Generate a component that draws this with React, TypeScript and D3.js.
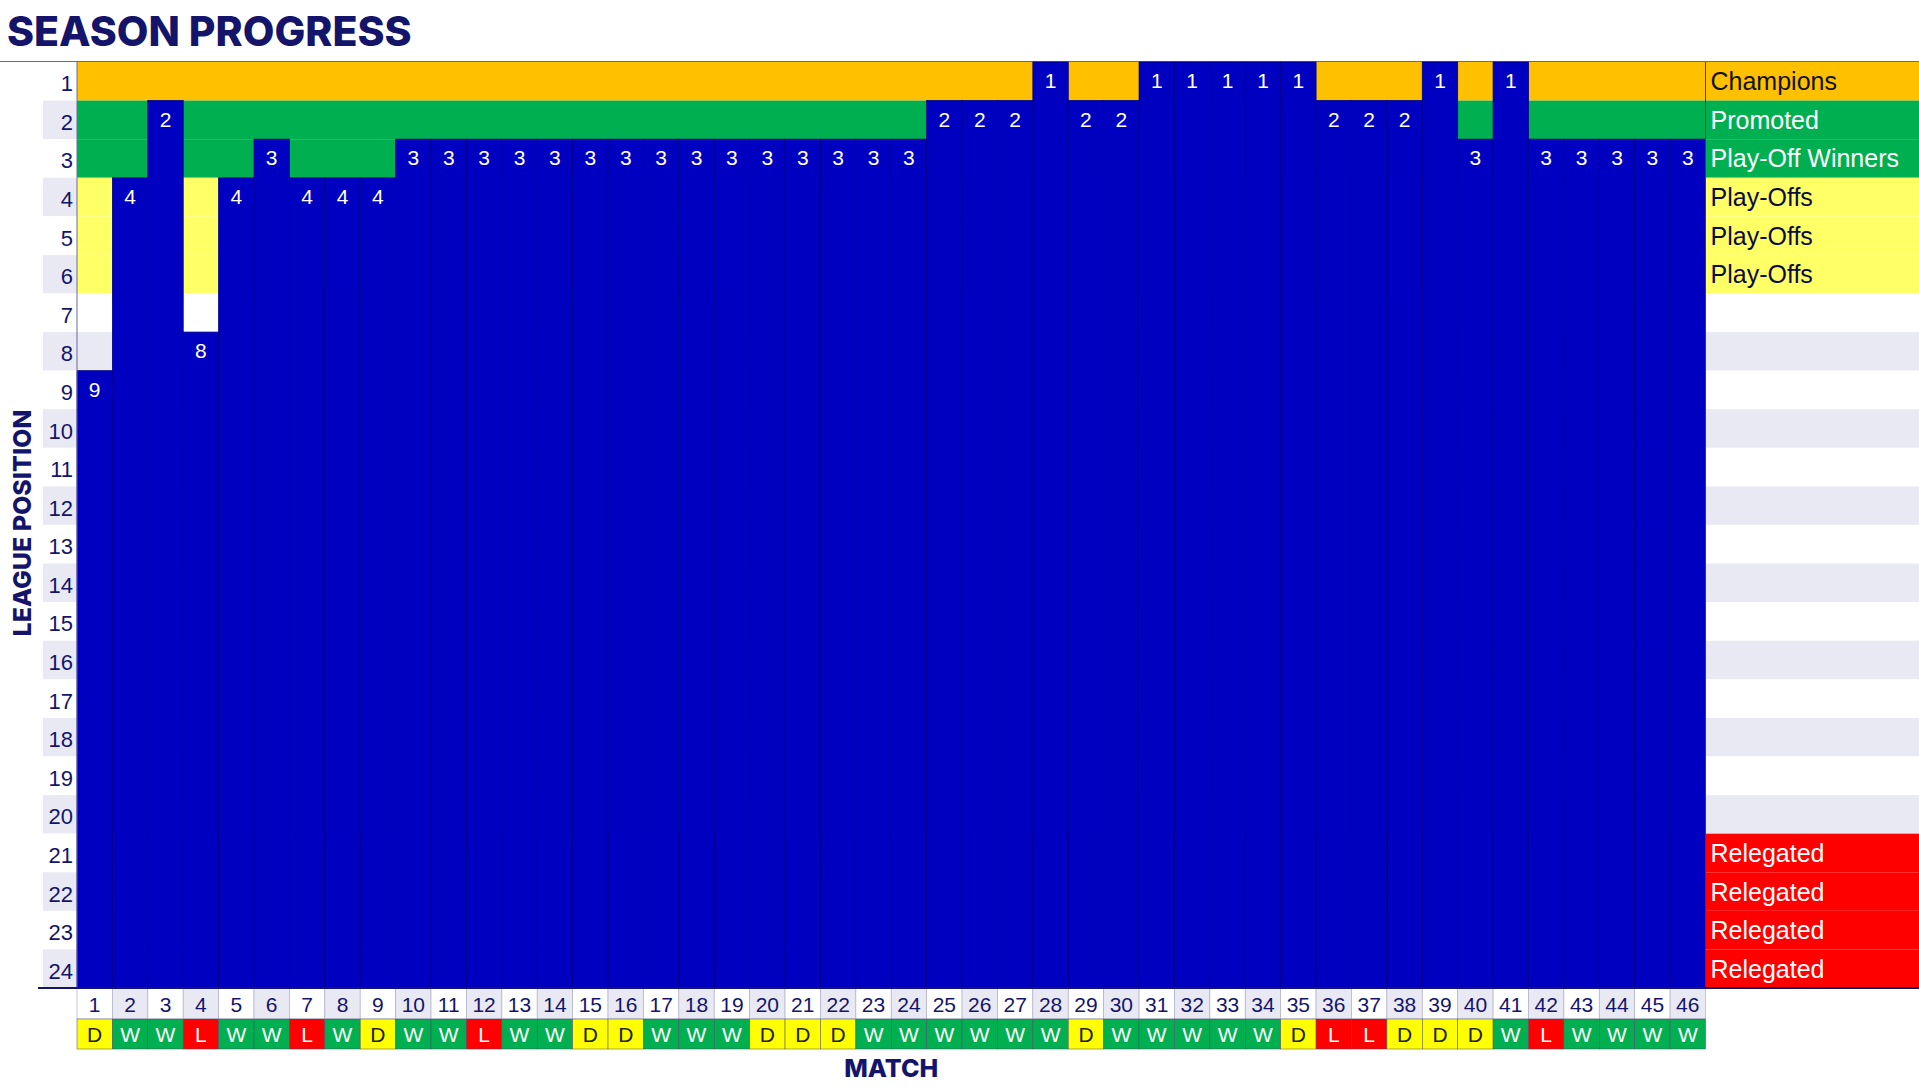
import React from 'react';
import * as d3 from 'd3';

const matches = d3.range(1, 47);
const positions = d3.range(1, 25);

// league position after each match
const leaguePosition = [
  9, 4, 2, 8, 4, 3, 4, 4, 4, 3,
  3, 3, 3, 3, 3, 3, 3, 3, 3, 3,
  3, 3, 3, 3, 2, 2, 2, 1, 2, 2,
  1, 1, 1, 1, 1, 2, 2, 2, 1, 3,
  1, 3, 3, 3, 3, 3,
];

const results = [
  'D', 'W', 'W', 'L', 'W', 'W', 'L', 'W', 'D', 'W',
  'W', 'L', 'W', 'W', 'D', 'D', 'W', 'W', 'W', 'D',
  'D', 'D', 'W', 'W', 'W', 'W', 'W', 'W', 'D', 'W',
  'W', 'W', 'W', 'W', 'D', 'L', 'L', 'D', 'D', 'D',
  'W', 'L', 'W', 'W', 'W', 'W',
];

const zoneLabels: Record<number, string> = {
  1: 'Champions',
  2: 'Promoted',
  3: 'Play-Off Winners',
  4: 'Play-Offs',
  5: 'Play-Offs',
  6: 'Play-Offs',
  21: 'Relegated',
  22: 'Relegated',
  23: 'Relegated',
  24: 'Relegated',
};

const NAVY = '#14146a';
const LAV = '#e9e9f4';
const BAR = '#0000c0';

const zoneFill = (p: number) => {
  if (p === 1) return '#ffc000';
  if (p <= 3) return '#00b050';
  if (p <= 6) return '#ffff66';
  if (p >= 21) return '#ff0000';
  return p % 2 === 0 ? LAV : '#ffffff';
};

const zoneText = (p: number) => {
  if (p === 1) return '#111111';
  if (p <= 3) return '#ffffff';
  if (p <= 6) return '#0c0c3c';
  return '#ffffff';
};

const resultFill: Record<string, string> = { W: '#00b050', D: '#ffff00', L: '#ff0000' };
const resultText: Record<string, string> = { W: '#ffffff', D: '#222222', L: '#ffffff' };

export default function App() {
  const width = 1919;
  const height = 1087;
  const left = 77;
  const right = 1705.5;
  const top = 62;
  const bottom = 988;
  const legendRight = 1919;

  const x = d3.scaleBand<number>().domain(matches).range([left, right]).padding(0);
  const y = d3.scaleBand<number>().domain(positions).range([top, bottom]).padding(0);
  const bw = x.bandwidth();
  const bh = y.bandwidth();
  const rowNum = 31;
  const rowRes = 30;
  const font = "'Liberation Sans', Arial, sans-serif";
  const boldFont = "Inter, 'Liberation Sans', sans-serif";

  return (
    <svg
      width={width}
      height={height}
      style={{ position: 'absolute', left: 0, top: 0, background: '#fff' }}
    >
      <text x={7} y={46} fontFamily={boldFont} fontWeight={800} fontSize={41} fill={NAVY}>
        SEASON PROGRESS
      </text>
      <line x1={0} x2={width} y1={top - 0.5} y2={top - 0.5} stroke="#6b6b80" strokeWidth={1} />

      {/* zone backgrounds incl. legend column */}
      {positions.map((p) => (
        <rect key={`bg${p}`} x={left} y={y(p)} width={legendRight - left} height={bh} fill={zoneFill(p)} />
      ))}

      {/* row label column */}
      {positions.map((p) => (
        <g key={`yl${p}`}>
          <rect x={43} y={y(p)} width={left - 43} height={bh} fill={p % 2 === 0 ? LAV : '#fff'} />
          <text
            x={73}
            y={(y(p) ?? 0) + bh / 2 + 10}
            textAnchor="end"
            fontFamily={font}
            fontSize={22}
            fill={NAVY}
          >
            {p}
          </text>
        </g>
      ))}

      {/* bars */}
      {matches.map((m, i) => (
        <rect
          key={`bar${m}`}
          x={x(m)}
          y={y(leaguePosition[i])}
          width={bw}
          height={bottom - (y(leaguePosition[i]) ?? 0)}
          fill={BAR}
          stroke="#00008a"
          strokeWidth={0.8}
        />
      ))}
      {matches.map((m, i) => (
        <text
          key={`bl${m}`}
          x={(x(m) ?? 0) + bw / 2}
          y={(y(leaguePosition[i]) ?? 0) + bh / 2 + 7}
          textAnchor="middle"
          fontFamily={font}
          fontSize={21}
          fill="#ffffff"
        >
          {leaguePosition[i]}
        </text>
      ))}

      {/* legend labels */}
      {positions
        .filter((p) => zoneLabels[p])
        .map((p) => (
          <text
            key={`lg${p}`}
            x={right + 5}
            y={(y(p) ?? 0) + bh / 2 + 9}
            fontFamily={font}
            fontSize={25}
            fill={zoneText(p)}
          >
            {zoneLabels[p]}
          </text>
        ))}

      <line x1={left} x2={left} y1={top} y2={bottom} stroke="#6b6b9a" strokeWidth={1} />
      <line x1={right} x2={right} y1={top} y2={bottom} stroke="#3a3a6a" strokeWidth={1} />

      {/* match numbers and results */}
      {matches.map((m, i) => (
        <g key={`mr${m}`}>
          <rect
            x={x(m)}
            y={bottom}
            width={bw}
            height={rowNum}
            fill={m % 2 === 0 ? LAV : '#fff'}
            stroke="#b0b0c8"
            strokeWidth={0.7}
          />
          <text
            x={(x(m) ?? 0) + bw / 2}
            y={bottom + rowNum / 2 + 8}
            textAnchor="middle"
            fontFamily={font}
            fontSize={21}
            fill={NAVY}
          >
            {m}
          </text>
          <rect
            x={x(m)}
            y={bottom + rowNum}
            width={bw}
            height={rowRes}
            fill={resultFill[results[i]]}
            stroke="#4a4a6a"
            strokeWidth={0.5}
          />
          <text
            x={(x(m) ?? 0) + bw / 2}
            y={bottom + rowNum + rowRes / 2 + 8}
            textAnchor="middle"
            fontFamily={font}
            fontSize={21}
            fill={resultText[results[i]]}
          >
            {results[i]}
          </text>
        </g>
      ))}

      <line x1={38} x2={legendRight} y1={bottom} y2={bottom} stroke={NAVY} strokeWidth={2} />

      <text
        x={(left + right) / 2}
        y={1077}
        textAnchor="middle"
        fontFamily={boldFont}
        fontWeight={800}
        fontSize={25}
        fill={NAVY}
      >
        MATCH
      </text>
      <text
        transform={`translate(31,523) rotate(-90)`}
        textAnchor="middle"
        fontFamily={boldFont}
        fontWeight={800}
        fontSize={25}
        fill={NAVY}
      >
        LEAGUE POSITION
      </text>
    </svg>
  );
}
